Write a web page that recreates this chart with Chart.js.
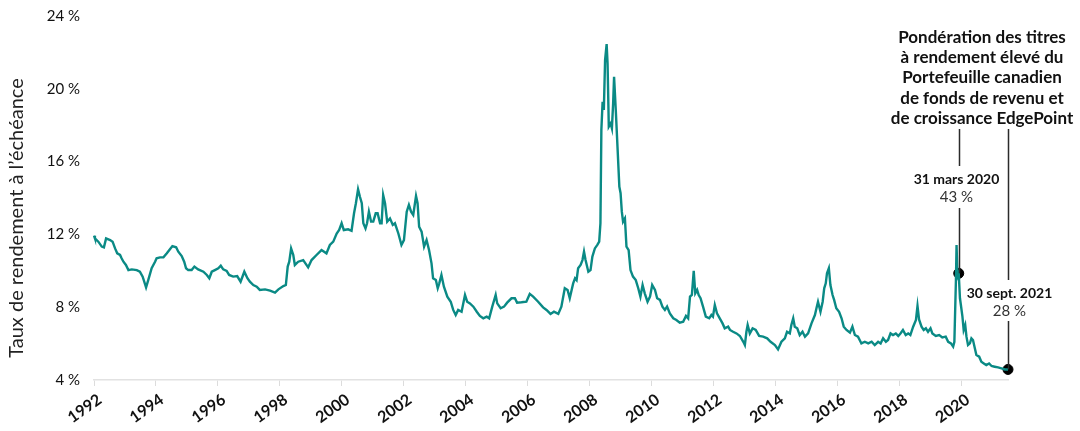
<!DOCTYPE html>
<html>
<head>
<meta charset="utf-8">
<script src="https://cdn.jsdelivr.net/npm/chart.js@4.4.0/dist/chart.umd.min.js"></script>
<style>
  body { margin: 0; background: #fff; }
  #wrap { width: 1080px; height: 431px; position: relative; }
</style>
</head>
<body>
<div id="wrap"><canvas id="yieldChart"></canvas></div>
<script>
// high-yield yield to maturity (x = position on the year axis)
const years = [
  1992.00, 1992.03, 1992.14, 1992.25, 1992.32, 1992.39, 1992.52, 1992.60, 1992.68, 1992.75,
  1992.84, 1992.89, 1992.95, 1993.03, 1993.11, 1993.22, 1993.38, 1993.48, 1993.57, 1993.68,
  1993.75, 1993.86, 1993.97, 1994.02, 1994.13, 1994.24, 1994.35, 1994.45, 1994.53, 1994.65,
  1994.72, 1994.83, 1994.91, 1994.97, 1995.04, 1995.15, 1995.24, 1995.36, 1995.53, 1995.64,
  1995.72, 1995.80, 1995.90, 1996.01, 1996.09, 1996.17, 1996.28, 1996.36, 1996.49, 1996.62,
  1996.73, 1996.85, 1996.95, 1997.03, 1997.14, 1997.25, 1997.35, 1997.52, 1997.68, 1997.84,
  1997.95, 1998.11, 1998.19, 1998.25, 1998.30, 1998.36, 1998.43, 1998.48, 1998.59, 1998.75,
  1998.91, 1999.02, 1999.18, 1999.34, 1999.50, 1999.61, 1999.72, 1999.83, 1999.91, 1999.99,
  2000.06, 2000.20, 2000.31, 2000.39, 2000.45, 2000.52, 2000.58, 2000.64, 2000.69, 2000.76,
  2000.81, 2000.87, 2000.94, 2001.01, 2001.09, 2001.15, 2001.23, 2001.28, 2001.33, 2001.39,
  2001.46, 2001.55, 2001.64, 2001.71, 2001.82, 2001.92, 2002.00, 2002.09, 2002.16, 2002.23,
  2002.30, 2002.39, 2002.44, 2002.49, 2002.57, 2002.65, 2002.73, 2002.81, 2002.89, 2002.94,
  2003.03, 2003.09, 2003.14, 2003.21, 2003.29, 2003.40, 2003.51, 2003.59, 2003.67, 2003.75,
  2003.86, 2003.97, 2004.04, 2004.13, 2004.24, 2004.35, 2004.45, 2004.56, 2004.67, 2004.75,
  2004.85, 2004.96, 2005.01, 2005.12, 2005.23, 2005.33, 2005.47, 2005.58, 2005.65, 2005.79,
  2005.95, 2006.06, 2006.17, 2006.33, 2006.49, 2006.60, 2006.73, 2006.84, 2006.98, 2007.08,
  2007.19, 2007.28, 2007.35, 2007.46, 2007.52, 2007.57, 2007.62, 2007.70, 2007.76, 2007.81,
  2007.86, 2007.95, 2008.02, 2008.08, 2008.16, 2008.24, 2008.30, 2008.34, 2008.37, 2008.41,
  2008.45, 2008.49, 2008.54, 2008.57, 2008.61, 2008.67, 2008.71, 2008.75, 2008.78, 2008.84,
  2008.89, 2008.95, 2008.99, 2009.03, 2009.07, 2009.13, 2009.18, 2009.25, 2009.31, 2009.39,
  2009.48, 2009.56, 2009.63, 2009.70, 2009.77, 2009.86, 2009.94, 2010.01, 2010.10, 2010.17,
  2010.26, 2010.34, 2010.42, 2010.49, 2010.58, 2010.69, 2010.79, 2010.90, 2011.01, 2011.10,
  2011.17, 2011.23, 2011.29, 2011.35, 2011.40, 2011.46, 2011.51, 2011.57, 2011.65, 2011.74,
  2011.85, 2011.92, 2011.97, 2012.03, 2012.10, 2012.19, 2012.28, 2012.35, 2012.46, 2012.52,
  2012.62, 2012.73, 2012.84, 2012.95, 2013.00, 2013.05, 2013.09, 2013.16, 2013.25, 2013.35,
  2013.46, 2013.59, 2013.72, 2013.83, 2013.97, 2014.07, 2014.18, 2014.29, 2014.36, 2014.45,
  2014.50, 2014.56, 2014.61, 2014.69, 2014.77, 2014.86, 2014.94, 2015.04, 2015.15, 2015.26,
  2015.31, 2015.36, 2015.44, 2015.51, 2015.56, 2015.61, 2015.65, 2015.71, 2015.76, 2015.83,
  2015.88, 2015.95, 2016.04, 2016.12, 2016.19, 2016.28, 2016.39, 2016.47, 2016.55, 2016.65,
  2016.76, 2016.87, 2016.98, 2017.09, 2017.19, 2017.30, 2017.38, 2017.46, 2017.55, 2017.62,
  2017.70, 2017.78, 2017.87, 2017.95, 2018.02, 2018.10, 2018.19, 2018.27, 2018.34, 2018.43,
  2018.52, 2018.57, 2018.62, 2018.70, 2018.77, 2018.84, 2018.91, 2018.99, 2019.05, 2019.16,
  2019.27, 2019.37, 2019.48, 2019.56, 2019.65, 2019.72, 2019.76, 2019.81, 2019.83, 2019.86,
  2019.90, 2019.94, 2019.97, 2020.02, 2020.06, 2020.11, 2020.15, 2020.20, 2020.26, 2020.31,
  2020.36, 2020.42, 2020.47, 2020.56, 2020.63, 2020.71, 2020.79, 2020.88, 2020.96, 2021.06,
  2021.17, 2021.28, 2021.39, 2021.49
];
const yieldPct = [
  11.93, 11.78, 11.60, 11.33, 11.29, 11.78, 11.69, 11.60, 11.23, 10.96,
  10.87, 10.69, 10.50, 10.32, 10.04, 10.08, 10.04, 9.95, 9.68, 9.09,
  9.49, 10.14, 10.50, 10.69, 10.74, 10.74, 10.96, 11.18, 11.36, 11.29,
  11.05, 10.81, 10.50, 10.14, 10.04, 10.04, 10.23, 10.08, 9.95, 9.77,
  9.59, 9.95, 10.04, 10.14, 10.28, 10.08, 9.99, 9.77, 9.68, 9.71,
  9.40, 9.95, 9.59, 9.40, 9.22, 9.13, 8.95, 8.98, 8.91, 8.80,
  8.98, 9.16, 9.22, 10.23, 10.50, 11.23, 10.87, 10.32, 10.50, 10.59,
  10.19, 10.59, 10.87, 11.14, 10.96, 11.42, 11.60, 12.05, 12.24, 12.61,
  12.24, 12.28, 12.20, 13.16, 13.71, 14.48, 14.07, 13.71, 12.61, 12.33,
  12.61, 13.25, 12.70, 12.70, 13.16, 13.16, 12.61, 12.61, 14.16, 13.71,
  12.70, 12.88, 12.52, 12.61, 12.05, 11.42, 11.69, 13.25, 13.62, 13.25,
  13.07, 14.11, 13.71, 12.42, 12.15, 11.33, 11.69, 11.14, 10.41, 9.59,
  9.49, 9.04, 9.31, 9.77, 9.13, 8.58, 8.30, 7.85, 7.57, 7.85,
  7.75, 8.67, 8.30, 8.21, 8.03, 7.75, 7.52, 7.39, 7.48, 7.39,
  8.03, 8.67, 8.21, 7.94, 8.03, 8.25, 8.49, 8.49, 8.25, 8.27,
  8.30, 8.73, 8.58, 8.30, 7.99, 7.85, 7.63, 7.75, 7.63, 8.03,
  9.04, 8.95, 8.49, 9.31, 9.59, 9.49, 10.14, 10.32, 10.59, 11.05,
  10.59, 9.95, 10.04, 10.78, 11.23, 11.42, 11.60, 12.61, 17.74, 19.29,
  18.84, 21.58, 22.46, 21.40, 17.92, 18.10, 17.83, 19.20, 20.66, 18.65,
  16.82, 14.62, 14.26, 13.25, 12.70, 12.88, 11.33, 11.14, 10.04, 9.68,
  9.49, 9.04, 8.58, 9.22, 8.76, 8.30, 8.58, 9.22, 8.95, 8.49,
  8.40, 8.03, 7.85, 8.03, 7.66, 7.39, 7.30, 7.15, 7.20, 7.52,
  7.39, 8.58, 8.67, 10.00, 8.76, 8.95, 8.67, 8.49, 8.03, 7.48,
  7.39, 7.57, 7.48, 8.12, 7.66, 7.39, 7.11, 6.84, 6.93, 6.75,
  6.65, 6.56, 6.42, 6.10, 5.92, 6.65, 7.02, 6.56, 6.84, 6.75,
  6.42, 6.38, 6.29, 6.10, 5.92, 5.68, 6.10, 6.29, 6.65, 6.56,
  7.02, 7.39, 6.93, 6.84, 6.47, 6.65, 6.38, 6.56, 7.11, 7.57,
  7.94, 8.30, 7.75, 8.30, 9.04, 9.31, 9.86, 10.14, 9.22, 8.67,
  8.40, 7.94, 7.75, 7.39, 6.93, 6.75, 6.60, 6.93, 6.47, 6.38,
  6.01, 6.10, 6.01, 6.10, 5.92, 6.10, 6.01, 6.29, 6.10, 6.20,
  6.56, 6.47, 6.56, 6.42, 6.56, 6.75, 6.47, 6.56, 6.47, 6.93,
  7.30, 8.07, 7.33, 6.93, 6.75, 6.84, 6.65, 6.84, 6.56, 6.42,
  6.47, 6.34, 6.38, 6.10, 6.01, 5.83, 6.10, 9.49, 11.42, 9.68,
  9.86, 8.49, 8.12, 7.48, 6.75, 7.02, 6.38, 5.92, 6.01, 6.29,
  6.20, 5.74, 5.37, 5.28, 5.00, 4.91, 4.82, 4.91, 4.77, 4.73,
  4.69, 4.64, 4.58, 4.58
];

const tickYears = [1992, 1994, 1996, 1998, 2000, 2002, 2004, 2006, 2008, 2010, 2012, 2014, 2016, 2018, 2020];
const tickPct = [4, 8, 12, 16, 20, 24];

const markerYears = [2019.90, 2021.49];
const markerPct = [9.86, 4.58];
const markerDates = ['31 mars 2020', '30 sept. 2021'];
const markerWeights = ['43 %', '28 %'];
const noteLines = ['Pondération des titres', 'à rendement élevé du', 'Portefeuille canadien', 'de fonds de revenu et', 'de croissance EdgePoint'];
const yTitle = 'Taux de rendement à l\u2019échéance';

const ctx = document.getElementById('yieldChart').getContext('2d');

// draws the callout lines and labels next to the two marked points
const calloutPlugin = {
    id: 'callouts',
    afterDatasetsDraw(chart) {
        const c = chart.ctx;
        const xs = chart.scales.x;
        const ys = chart.scales.y;
        const dateY = [179, 293];
        const gapTop = [166, 280];
        const gapBottom = [208, 321];
        c.save();

        // axis title
        c.save();
        c.translate(17, 218);
        c.rotate(-Math.PI / 2);
        c.font = '20px Lato';
        c.fillStyle = '#222';
        c.textAlign = 'center';
        c.textBaseline = 'middle';
        c.fillText(yTitle, 0, 0);
        c.restore();

        // heading
        c.font = 'bold 17px Lato';
        c.fillStyle = '#111';
        c.textAlign = 'center';
        c.textBaseline = 'alphabetic';
        noteLines.forEach((t, i) => c.fillText(t, 982, 43 + i * 20.2));

        for (let i = 0; i < markerYears.length; i++) {
            const px = Math.round(xs.getPixelForValue(markerYears[i])) + 0.5;
            const py = ys.getPixelForValue(markerPct[i]);
            c.strokeStyle = '#2b2b2b';
            c.lineWidth = 1.5;
            c.beginPath();
            c.moveTo(px, 129);
            c.lineTo(px, gapTop[i]);
            c.moveTo(px, gapBottom[i]);
            c.lineTo(px, py);
            c.stroke();

            const cx = i === 0 ? px - 3 : px + 1;
            c.textBaseline = 'middle';
            c.font = 'bold 14px Lato';
            c.fillStyle = '#111';
            c.fillText(markerDates[i], cx, dateY[i]);
            c.font = '15px Lato';
            c.fillStyle = '#333';
            c.fillText(markerWeights[i], cx, dateY[i] + 18);
        }
        c.restore();
    }
};

new Chart(ctx, {
    type: 'line',
    data: {
        datasets: [{
            data: years.map((x, i) => ({ x: x, y: yieldPct[i] })),
            borderColor: '#0a8a85',
            borderWidth: 2.4,
            pointRadius: 0,
            tension: 0,
            clip: false
        }, {
            type: 'scatter',
            data: markerYears.map((x, i) => ({ x: x, y: markerPct[i] })),
            backgroundColor: '#000',
            borderColor: '#000',
            pointRadius: 5,
            clip: false
        }]
    },
    options: {
        responsive: true,
        maintainAspectRatio: false,
        animation: false,
        layout: { padding: { left: 0, right: 72, top: 16, bottom: 0 } },
        plugins: {
            legend: { display: false },
            tooltip: { enabled: false }
        },
        scales: {
            x: {
                type: 'linear',
                min: 1992,
                max: 2021.49,
                afterBuildTicks: axis => { axis.ticks = tickYears.map(v => ({ value: v })); },
                afterFit: axis => { axis.height = 51; },
                grid: {
                    drawOnChartArea: false,
                    color: '#dcdcdc',
                    tickLength: 6
                },
                border: { display: true, color: '#e2e2e2', width: 1.5 },
                ticks: {
                    minRotation: 35,
                    maxRotation: 35,
                    padding: 4,
                    labelOffset: 6,
                    color: '#111',
                    font: { family: 'Lato', size: 16, weight: 'bold' },
                    callback: v => String(v)
                }
            },
            y: {
                min: 4,
                max: 24,
                afterBuildTicks: axis => { axis.ticks = tickPct.map(v => ({ value: v })); },
                afterFit: axis => { axis.width = 94; },
                grid: { display: false },
                border: { display: false },
                ticks: {
                    padding: 6,
                    color: '#111',
                    font: { family: 'Lato', size: 15 },
                    callback: v => v + '\u00a0%'
                }
            }
        }
    },
    plugins: [calloutPlugin]
});
</script>
</body>
</html>
